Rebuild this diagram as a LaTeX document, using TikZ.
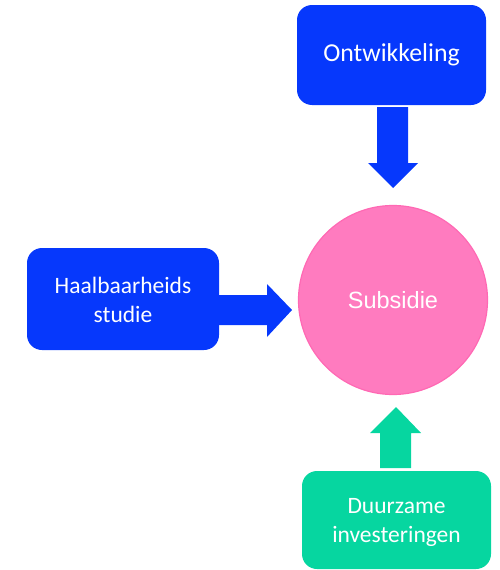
\documentclass[tikz,border=0pt]{standalone}
\usepackage{fontspec}
\setmainfont{Carlito}
\newfontfamily\arialfont{Liberation Sans}
\definecolor{dblue}{RGB}{6,56,252}
\definecolor{dgreen}{RGB}{6,214,160}
\definecolor{dpink}{RGB}{255,123,191}
\definecolor{dpinkb}{RGB}{255,105,180}
\begin{document}
\begin{tikzpicture}[x=1pt,y=-1pt,
  boxtext/.style={text=white, align=center, font=\fontsize{23.5}{29}\selectfont}]
\useasboundingbox (0,0) rectangle (500,570);
% boxes
\fill[dblue, rounded corners=15pt] (297,5) rectangle (486,105);
\node[boxtext, font=\fontsize{25.8}{30}\selectfont] (ont) at (391.5,55) {Ontwikkeling};
\fill[dblue, rounded corners=15pt] (27,248) rectangle (219,350);
\node[boxtext] (haal) at (123,300) {Haalbaarheids\\studie};
\fill[dgreen, rounded corners=15pt] (302,471) rectangle (491,569);
\node[boxtext] (duur) at (396.5,522) {Duurzame\\investeringen};
% circle
\node[circle, minimum size=189pt, fill=dpink, draw=dpinkb, line width=1.2pt, text=white, font=\arialfont\fontsize{23.5}{28}\selectfont] (sub) at (393,300) {Subsidie};
% arrows
\fill[dblue] (377,107) -- (408,107) -- (408,163) -- (418,163) -- (393,188) -- (368,163) -- (377,163) -- cycle;
\fill[dblue] (219,295) -- (267,295) -- (267,284) -- (292,310) -- (267,337) -- (267,325) -- (219,325) -- cycle;
\fill[dgreen] (380,468) -- (380,433) -- (370,433) -- (396,407) -- (421,433) -- (411,433) -- (411,468) -- cycle;
\end{tikzpicture}
\end{document}
